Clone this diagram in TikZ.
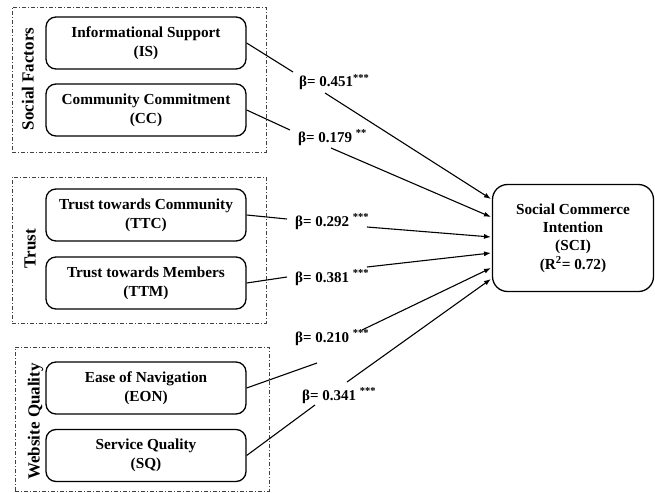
\documentclass[tikz,border=0pt]{standalone}
\usepackage{fontspec}
\setmainfont{Liberation Serif}
\usetikzlibrary{arrows.meta}
\begin{document}
\begin{tikzpicture}[x=1pt,y=-1pt,
  grp/.style={draw=black!75, line width=0.8pt, dash pattern=on 4pt off 2pt on 1pt off 2pt, inner sep=0pt},
  var/.style={draw, line width=1.3pt, rounded corners=10pt, minimum width=200pt, minimum height=52pt, align=center, font=\fontsize{15.3}{19}\selectfont\bfseries, inner sep=0pt},
  grplabel/.style={rotate=90, anchor=base, font=\fontsize{17}{20}\selectfont\bfseries, inner sep=0pt},
  coef/.style={anchor=base west, font=\fontsize{15}{18}\selectfont\bfseries, inner sep=0pt},
  link/.style={line width=1.1pt},
  arr/.style={line width=1.1pt, -{Latex[length=7pt,width=5pt]}},
]
\useasboundingbox (0,0) rectangle (655,492);

% groups
\node[grp, minimum width=254pt, minimum height=145pt] (gSF) at (139,79.5) {};
\node[grp, minimum width=254pt, minimum height=146pt] (gTR) at (139,250) {};
\node[grp, minimum width=254pt, minimum height=144pt] (gWQ) at (142,419) {};
\node[grplabel] (lSF) at (33.5,79) {Social Factors};
\node[grplabel] (lTR) at (35.5,248.5) {Trust};
\node[grplabel] (lWQ) at (39.5,421.5) {Website Quality};

% variables
\node[var] (IS) at (146,43) {Informational Support\\(IS)};
\node[var] (CC) at (146,110) {Community Commitment\\(CC)};
\node[var] (TTC) at (146,215) {Trust towards Community\\(TTC)};
\node[var] (TTM) at (146,283) {Trust towards Members\\(TTM)};
\node[var] (EON) at (146,388) {Ease of Navigation\\(EON)};
\node[var] (SQ) at (146,455.5) {Service Quality\\(SQ)};
\node[var, rounded corners=15pt, minimum width=161pt, minimum height=107pt, font=\fontsize{15.3}{18.3}\selectfont\bfseries] (SCI) at (573,238) {Social Commerce\\Intention\\(SCI)\\(R\textsuperscript{2}= 0.72)};

% coefficient labels
\node[coef] (bIS) at (299,87) {β= 0.451\textsuperscript{***}};
\node[coef] (bCC) at (298,142) {β= 0.179 \textsuperscript{**}};
\node[coef] (bTTC) at (295,226) {β= 0.292 \textsuperscript{***}};
\node[coef] (bTTM) at (295,282) {β= 0.381 \textsuperscript{***}};
\node[coef] (bEON) at (295,342) {β= 0.210 \textsuperscript{***}};
\node[coef] (bSQ) at (302,400) {β= 0.341 \textsuperscript{***}};

% gap points and arrow ends
\coordinate (aIS) at (293,72);   \coordinate (cIS) at (325,93);   \coordinate (eIS) at (491,199);
\coordinate (aCC) at (290,130);  \coordinate (cCC) at (331,148);  \coordinate (eCC) at (491,217);
\coordinate (aTTC) at (287,219); \coordinate (cTTC) at (367,227); \coordinate (eTTC) at (491,237);
\coordinate (aTTM) at (287,277); \coordinate (cTTM) at (367,267); \coordinate (eTTM) at (491,253);
\coordinate (aEON) at (317,363); \coordinate (cEON) at (362,330); \coordinate (eEON) at (491,268);
\coordinate (aSQ) at (315,405);  \coordinate (cSQ) at (347,382);  \coordinate (eSQ) at (491,279);

\foreach \v in {IS,CC,TTC,TTM,EON,SQ}{
  \draw[link] (\v.east) -- (a\v);
  \draw[arr] (c\v) -- (e\v);
}
\end{tikzpicture}
\end{document}
